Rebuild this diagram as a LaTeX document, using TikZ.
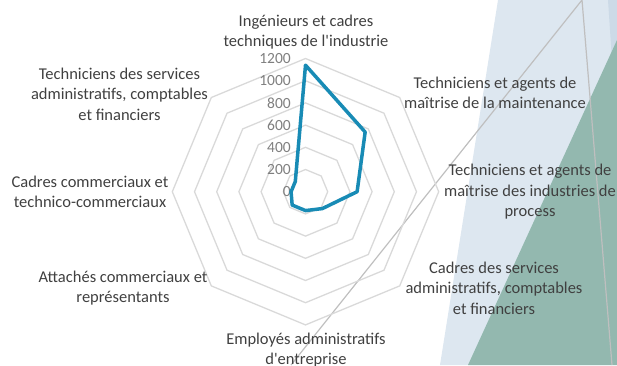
\documentclass[tikz,border=0pt]{standalone}
\usepackage{fontspec}
\setmainfont{Carlito}[Ligatures=TeXOff]
\definecolor{txtgray}{HTML}{404040}
\definecolor{valgray}{HTML}{7F7F7F}
\definecolor{ringgray}{HTML}{D9D9D9}
\definecolor{serieblue}{RGB}{24,139,181}
\definecolor{paleblue}{HTML}{DDE7F0}
\definecolor{midblue}{HTML}{CCDAE7}
\definecolor{sagegreen}{HTML}{93B8AF}
\definecolor{linegray}{HTML}{BFBFBF}

\begin{document}
\begin{tikzpicture}[
	x = 1pt, y = -1pt,
	lbl/.style = {align = center, text = txtgray, inner sep = 0pt,
		font = \fontsize{16.5}{20.5}\selectfont},
	val/.style = {anchor = east, text = valgray, inner sep = 0pt,
		font = \fontsize{15.5}{16}\selectfont},
	ring/.style = {draw = ringgray, line width = 1.3pt},
	serie/.style = {draw = serieblue, line width = 3.5pt, line join = round},
	deco/.style = {draw = linegray, line width = 1.2pt}
	]
	\useasboundingbox (0,0) rectangle (617,365);
	% background
	\fill[paleblue] (498,0) -- (617,0) -- (617,365) -- (440,365) -- cycle;
	\fill[midblue] (608,0) -- (617,0) -- (617,60) -- (612,60) -- cycle;
	\fill[sagegreen] (617,40) -- (617,365) -- (468,365) -- cycle;
	\coordinate (apex) at (582,0);
	\coordinate (footl) at (291,365);
	\coordinate (footr) at (612,365);
	\draw[deco] (footl) -- (apex) -- (footr);
	% radar
	\begin{scope}[shift = {(305.5,191.7)}, y = 1pt]
		\foreach \r in {1,...,6}
			\draw[ring] (90:{\r*22.2}) \foreach \a in {45,0,...,-225} { -- (\a:{\r*22.2}) } -- cycle;
		\foreach \v [count = \i from 0] in {0,200,...,1200}
			\node[val] (t\v) at (-14.5,{\i*22.2}) {\v};
		\foreach \a/\v [count = \i] in {90/1140, 45/760, 0/465, -45/215,
				-90/170, -135/170, 180/130, 135/130}
			\coordinate (v\i) at (\a:{\v*0.111});
		\draw[serie] (v1) -- (v2) -- (v3) -- (v4) -- (v5) -- (v6) -- (v7) -- (v8) -- cycle;
	\end{scope}
	% labels
	\node[lbl] (ing) at (306,32) {Ingénieurs et cadres\\techniques de l'industrie};
	\node[lbl] (maint) at (495,93) {Techniciens et agents de\\maîtrise de la maintenance};
	\node[lbl] (proc) at (530,192) {Techniciens et agents de\\maîtrise des industries de\\process};
	\node[lbl] (cadm) at (494,288) {Cadres des services\\administratifs, comptables\\et financiers};
	\node[lbl] (empl) at (306,350) {Employés administratifs\\d'entreprise};
	\node[lbl] (atta) at (123,288) {Attachés commerciaux et\\représentants};
	\node[lbl] (ccom) at (90,192) {Cadres commerciaux et\\technico-commerciaux};
	\node[lbl] (tadm) at (119.5,94) {Techniciens des services\\administratifs, comptables\\et financiers};
\end{tikzpicture}
\end{document}
